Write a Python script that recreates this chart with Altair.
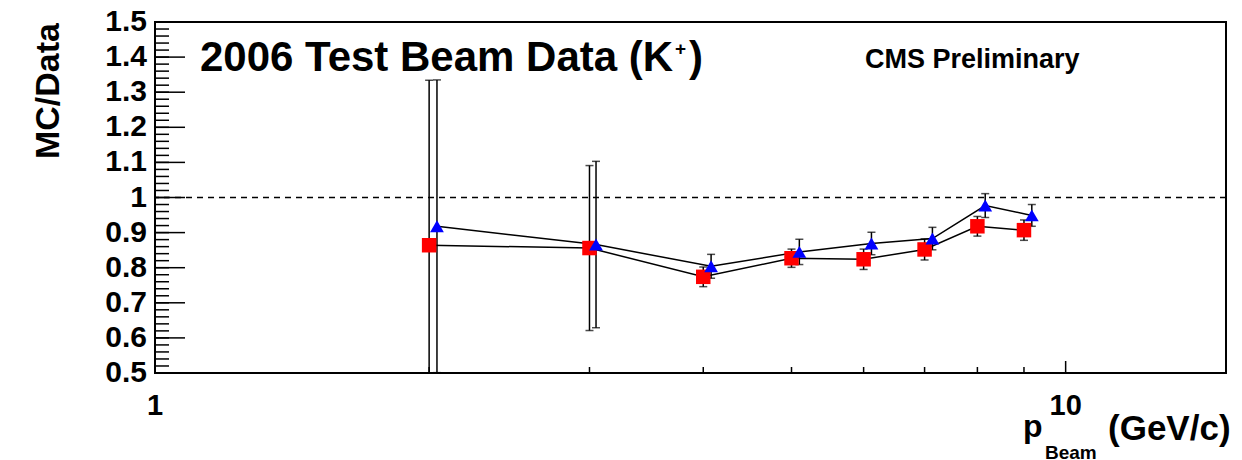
import altair as alt
import pandas as pd

# ---- data ----
p_red = [2, 3, 4, 5, 6, 7, 8, 9]
ratio_red = [0.864, 0.856, 0.774, 0.827, 0.824, 0.852, 0.918, 0.907]
err_red = [0.47, 0.235, 0.028, 0.026, 0.029, 0.030, 0.028, 0.029]

p_blue = [2.04, 3.05, 4.08, 5.1, 6.12, 7.14, 8.16, 9.18]
ratio_blue = [0.918, 0.866, 0.804, 0.845, 0.869, 0.883, 0.977, 0.949]
err_blue = [0.417, 0.237, 0.034, 0.036, 0.032, 0.032, 0.034, 0.031]

y_major = [0.5, 0.6, 0.7, 0.8, 0.9, 1.0, 1.1, 1.2, 1.3, 1.4, 1.5]
y_tick_labels = ["0.5", "0.6", "0.7", "0.8", "0.9", "1", "1.1", "1.2", "1.3", "1.4", "1.5"]
y_minor = [round(0.5 + 0.02 * i, 2) for i in range(51)]
x_labels = [1, 10]
x_tick_labels = ["1", "10"]
x_minor = [2, 3, 4, 5, 6, 7, 8, 9]
x_major = [10]
ref_level = 1.0

rows = []
for s, xs_, ys_, es in (("red", p_red, ratio_red, err_red), ("blue", p_blue, ratio_blue, err_blue)):
    for xv, yv, ev in zip(xs_, ys_, es):
        rows.append({"series": s, "p": xv, "r": yv, "lo": yv - ev, "hi": yv + ev})
df = pd.DataFrame(rows)

W, H = 1071, 351
FONT = "Liberation Sans"

xs = alt.Scale(type="log", domain=[1, 15], nice=False)
ys = alt.Scale(domain=[0.5, 1.5], nice=False, zero=False)

base = alt.Chart(df)


def X(field):
    return alt.X(field, scale=xs, axis=None)


def Y(field):
    return alt.Y(field, scale=ys, axis=None)


ylab_df = pd.DataFrame({"r": y_major, "t": y_tick_labels})
xlab_df = pd.DataFrame({"p": x_labels, "t": x_tick_labels})
ymin_df = pd.DataFrame({"r": y_minor})
ymaj_df = pd.DataFrame({"r": y_major})
xmin_df = pd.DataFrame({"p": x_minor})
xmaj_df = pd.DataFrame({"p": x_major})

ytick_labels = alt.Chart(ylab_df).mark_text(
    font=FONT, fontWeight="bold", fontSize=30, color="black", align="right", baseline="middle").encode(
    y=Y("r:Q"), x=alt.value(-8), text="t:N")
xtick_labels = alt.Chart(xlab_df).mark_text(
    font=FONT, fontWeight="bold", fontSize=29, color="black", align="center", baseline="alphabetic").encode(
    x=X("p:Q"), y=alt.value(H + 42), text="t:N")

ytick_minor = alt.Chart(ymin_df).mark_rule(color="black", strokeWidth=1.5).encode(
    y=Y("r:Q"), x=alt.value(0), x2=alt.value(14))
ytick_major = alt.Chart(ymaj_df).mark_rule(color="black", strokeWidth=1.5).encode(
    y=Y("r:Q"), x=alt.value(0), x2=alt.value(30))
xtick_minor = alt.Chart(xmin_df).mark_rule(color="black", strokeWidth=1.5).encode(
    x=X("p:Q"), y=alt.value(H), y2=alt.value(H - 6))
xtick_major = alt.Chart(xmaj_df).mark_rule(color="black", strokeWidth=1.5).encode(
    x=X("p:Q"), y=alt.value(H), y2=alt.value(H - 12))

dash = alt.Chart(pd.DataFrame({"r": [ref_level]})).mark_rule(
    color="black", strokeWidth=1.5, strokeDash=[6, 5]).encode(y=Y("r:Q"))

err = base.mark_rule(color="black", strokeWidth=1.5, clip=True).encode(
    x=X("p:Q"), y=Y("lo:Q"), y2="hi:Q")
cap_lo = base.mark_tick(color="black", orient="horizontal", size=8, thickness=1.5, clip=True).encode(
    x=X("p:Q"), y=Y("lo:Q"))
cap_hi = base.mark_tick(color="black", orient="horizontal", size=8, thickness=1.5, clip=True).encode(
    x=X("p:Q"), y=Y("hi:Q"))

lines = base.mark_line(color="black", strokeWidth=1.5).encode(
    x=X("p:Q"), y=Y("r:Q"), detail="series:N", order="p:Q")

red_pts = base.transform_filter(alt.datum.series == "red").mark_point(
    shape="square", filled=True, size=210, color="#ff0000", opacity=1).encode(
    x=X("p:Q"), y=Y("r:Q"))
blue_pts = base.transform_filter(alt.datum.series == "blue").mark_point(
    shape="triangle-up", filled=True, size=190, color="#0000ff", opacity=1).encode(
    x=X("p:Q"), y=Y("r:Q"))


def label(text, x, y, size, align="left", angle=0, baseline="alphabetic"):
    return alt.Chart(pd.DataFrame({"t": [text]})).mark_text(
        font=FONT, fontWeight="bold", fontSize=size, color="black",
        align=align, baseline=baseline, angle=angle).encode(
        text="t:N", x=alt.value(x), y=alt.value(y))


title = label("2006 Test Beam Data (K", 45, 49, 42)
title_sup = label("+", 520, 33, 19)
title_close = label(")", 534, 49, 42)
cms = label("CMS Preliminary", 710, 46, 27)
ylab = label("MC/Data", -106, 1, 34, align="right", angle=270, baseline="middle")
xlab_p = label("p", 868, 415, 32)
xlab_sub = label("Beam", 890, 437, 19)
xlab_unit = label("(GeV/c)", 953, 418, 35)

chart = alt.layer(
    dash, err, cap_lo, cap_hi, lines, red_pts, blue_pts,
    ytick_minor, ytick_major, xtick_minor, xtick_major,
    ytick_labels, xtick_labels,
    title, title_sup, title_close, cms, ylab, xlab_p, xlab_sub, xlab_unit,
).properties(
    width=W, height=H,
    autosize=alt.AutoSizeParams(type="none"),
    padding={"left": 155, "top": 22, "right": 16, "bottom": 87},
    background="white",
).configure_view(stroke="black", strokeWidth=2)

chart.save("out.html", embed_options={"renderer": "svg", "actions": False})
